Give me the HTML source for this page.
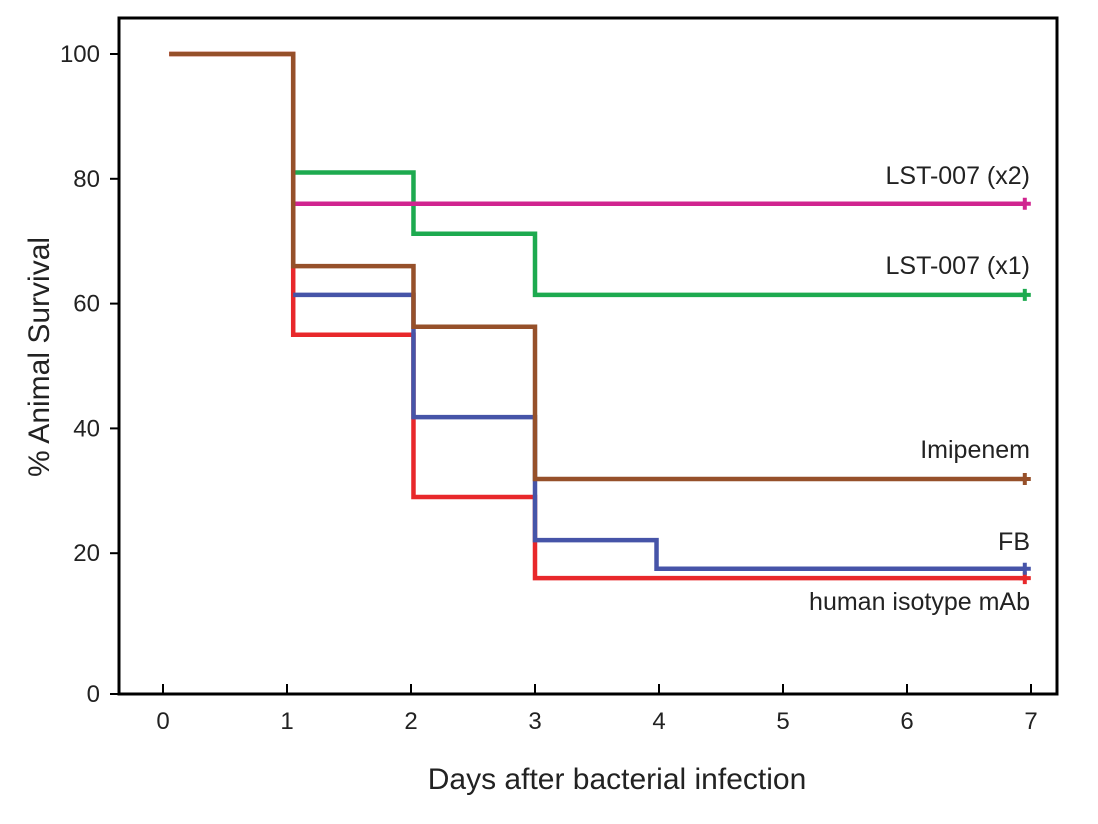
<!DOCTYPE html>
<html><head><meta charset="utf-8"><style>
body{margin:0;background:#fff;}
svg text{font-family:"Liberation Sans",sans-serif;}
</style></head><body>
<svg id="chart" width="1098" height="819" xmlns="http://www.w3.org/2000/svg">
<rect x="119" y="18" width="938" height="676" fill="none" stroke="#000" stroke-width="3"/>
<g id="axes"></g>
<g id="series"></g>
<text x="617" y="789" font-size="30" text-anchor="middle" fill="#222">Days after bacterial infection</text>
<text transform="translate(49,357) rotate(-90)" font-size="30" text-anchor="middle" fill="#222">% Animal Survival</text>
</svg>
<script>
const xTicks=[0,1,2,3,4,5,6,7];
const yTicks=[0,20,40,60,80,100];
const seriesNames=["human isotype mAb","FB","Imipenem","LST-007 (x1)","LST-007 (x2)"];
const seriesColors=["#e8282b","#4654a8","#96502a","#1daa4f","#d0248f"];
const redDays=[0.05,1.05,2.02,3.0,6.95];
const redVals=[100,55,29,16,16];
const blueDays=[1.05,2.02,3.0,3.98,6.95];
const blueVals=[61.4,41.8,22.1,17.5,17.5];
const brownDays=[0.05,1.05,2.02,3.0,6.95];
const brownVals=[100,66,56.3,31.9,31.9];
const greenDays=[1.05,2.02,3.0,6.95];
const greenVals=[81,71.2,61.4,61.4];
const magentaDays=[1.05,6.95];
const magentaVals=[76,76];
const labelY=[610,550,458,274,184];
const NS="http://www.w3.org/2000/svg";
function X(d){return 163+d*124;}
function Y(v){return v<=0?694:54+(100-v)*6.24;}
const axes=document.getElementById('axes');
const ser=document.getElementById('series');
function mk(tag,attrs,parent){const e=document.createElementNS(NS,tag);for(const k in attrs)e.setAttribute(k,attrs[k]);parent.appendChild(e);return e;}
xTicks.forEach(t=>{
  const l=mk('line',{x1:X(t),x2:X(t),y1:684,y2:694,stroke:'#000','stroke-width':2},axes);
  
  
  const tx=mk('text',{x:X(t),y:729,'font-size':24,'text-anchor':'middle',fill:'#222'},axes);
  tx.textContent=t;
  
  
});
yTicks.forEach(t=>{
  const l=mk('line',{x1:110,x2:119,y1:Y(t),y2:Y(t),stroke:'#000','stroke-width':2},axes);
  
  
  const tx=mk('text',{x:100,y:Y(t)+8,'font-size':24,'text-anchor':'end',fill:'#222'},axes);
  tx.textContent=t;
  
  
});
const all=[[redDays,redVals],[blueDays,blueVals],[greenDays,greenVals],[magentaDays,magentaVals],[brownDays,brownVals]];
const idx=[0,1,3,4,2];
all.forEach((s,i)=>{
  const [d,v]=s;const c=seriesColors[idx[i]];
  let p='M'+X(d[0])+','+Y(v[0]);
  for(let k=1;k<d.length;k++){p+=' H'+X(d[k])+' V'+Y(v[k]);}
  const path=mk('path',{d:p,fill:'none',stroke:c,'stroke-width':4.5},ser);
  
  
  const lx=X(d[d.length-1]),ly=Y(v[v.length-1]);
  const m=mk('path',{d:`M${lx-6},${ly} H${lx+6} M${lx},${ly-6} V${ly+6}`,stroke:c,'stroke-width':4},ser);
  
  
});
seriesNames.forEach((n,i)=>{
  const t=mk('text',{x:1030,y:labelY[i],'font-size':25,'text-anchor':'end',fill:'#222'},ser);
  t.textContent=n;
  
  
});
</script>
</body></html>
